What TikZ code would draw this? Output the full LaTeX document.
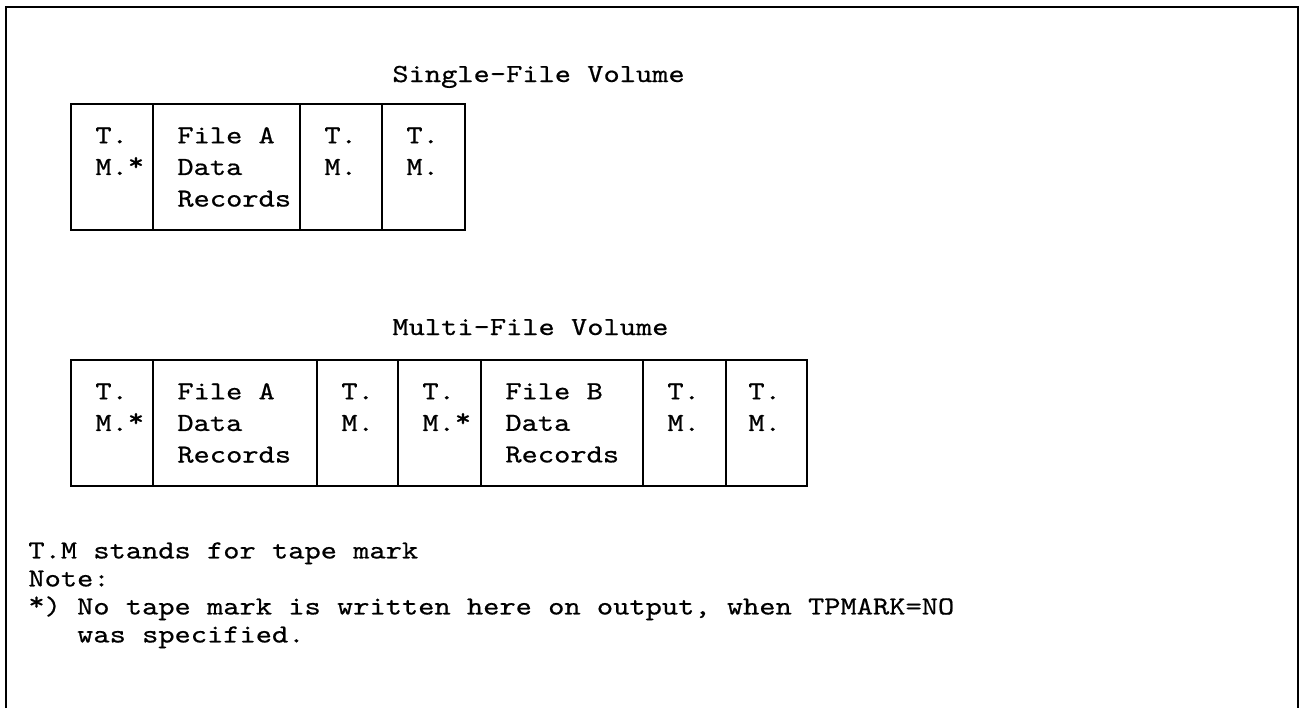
\documentclass[tikz,border=0pt]{standalone}
\usepackage{fontspec}
\setmonofont{lmmono10-regular.otf}[FakeStretch=1.19, FakeBold=0.6]
\usetikzlibrary{positioning}
\newcommand{\tmstar}{\raisebox{2.2pt}{*}}

\begin{document}
\begin{tikzpicture}[x=0.5pt, y=-0.5pt]
  % Define styles for cells and texts
  \tikzset{
    cellbox/.style={rectangle, draw, line width=0.8pt, minimum height=63pt, minimum width=#1, inner sep=0pt, outer sep=0pt},
    celltext/.style={align=left, inner sep=0pt, font=\ttfamily\fontsize{13}{15.8}\selectfont},
    titletext/.style={anchor=base west, inner sep=0pt, font=\ttfamily\fontsize{13}{15.5}\selectfont},
    notetext/.style={anchor=north west, align=left, inner sep=0pt, font=\ttfamily\fontsize{13}{14}\selectfont}
  }
  \useasboundingbox (0,0) rectangle (1303,708);

  % Outer frame, open at the bottom
  \draw[line width=0.8pt] (6,708) -- (6,7) -- (1298,7) -- (1298,708);

  % Single-file volume
  \node[titletext] (stitle) at (392,82) {Single-File Volume};
  \node[cellbox=41pt, anchor=north west] (s1) at (71,104) {};
  \node[cellbox=73.5pt, right=0pt of s1] (s2) {};
  \node[cellbox=41pt, right=0pt of s2] (s3) {};
  \node[cellbox=41.5pt, right=0pt of s3] (s4) {};

  \node[celltext, right=12pt of s1.west] (s1t) {T.\\M.\tmstar\\~};
  \node[celltext, right=12pt of s2.west] (s2t) {File A\\Data\\Records};
  \node[celltext, right=12pt of s3.west] (s3t) {T.\\M.\\~};
  \node[celltext, right=12pt of s4.west] (s4t) {T.\\M.\\~};

  % Multi-file volume
  \node[titletext] (mtitle) at (392,335) {Multi-File Volume};
  \node[cellbox=41pt, anchor=north west] (m1) at (71,360) {};
  \node[cellbox=82pt, right=0pt of m1] (m2) {};
  \node[cellbox=40.5pt, right=0pt of m2] (m3) {};
  \node[cellbox=41.5pt, right=0pt of m3] (m4) {};
  \node[cellbox=81pt, right=0pt of m4] (m5) {};
  \node[cellbox=41.5pt, right=0pt of m5] (m6) {};
  \node[cellbox=40.5pt, right=0pt of m6] (m7) {};

  \node[celltext, right=12pt of m1.west] (m1t) {T.\\M.\tmstar\\~};
  \node[celltext, right=12pt of m2.west] (m2t) {File A\\Data\\Records};
  \node[celltext, right=12pt of m3.west] (m3t) {T.\\M.\\~};
  \node[celltext, right=12pt of m4.west] (m4t) {T.\\M.\tmstar\\~};
  \node[celltext, right=12pt of m5.west] (m5t) {File B\\Data\\Records};
  \node[celltext, right=12pt of m6.west] (m6t) {T.\\M.\\~};
  \node[celltext, right=11pt of m7.west] (m7t) {T.\\M.\\~};

  % Notes under the volumes
  \node[notetext] (notes) at (28,542) {T.M stands for tape mark\\Note:\\\smash{\tmstar}) No tape mark is written here on output, when TPMARK=NO\\\hphantom{*) }was specified.};
\end{tikzpicture}
\end{document}
